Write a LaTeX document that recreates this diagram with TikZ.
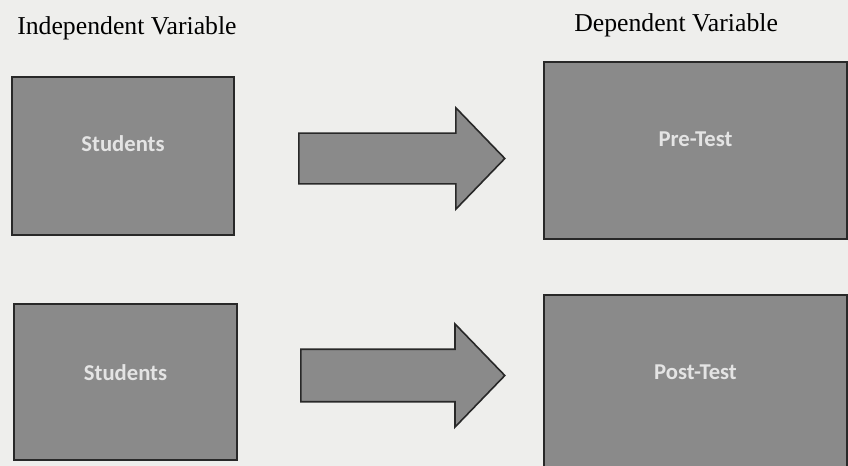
\documentclass[tikz,border=0pt]{standalone}
\usepackage{fontspec}
\setmainfont{Liberation Serif}
\newfontfamily\boxfont{Carlito}
\usetikzlibrary{shapes.arrows}
\definecolor{bgc}{RGB}{238,238,236}
\definecolor{boxc}{RGB}{138,138,138}
\definecolor{edgec}{RGB}{40,40,40}
\definecolor{labc}{RGB}{228,228,228}
\tikzset{
  x=0.75pt, y=-0.75pt,
  panel/.style={draw=edgec, fill=boxc, line width=1.2pt, rectangle, inner sep=0pt},
  boxtext/.style={text=labc, font=\boxfont\bfseries\fontsize{17}{20}\selectfont},
  title/.style={font=\fontsize{19.3}{22}\selectfont, inner sep=0pt, anchor=base west},
  blockarrow/.style={single arrow, draw=edgec, fill=boxc, line width=1.2pt,
    inner sep=0pt, text width=0pt, text height=18.4pt, text depth=18.4pt,
    single arrow head extend=19pt, single arrow tip angle=92,
    minimum height=154.5pt, anchor=tail},
}
\begin{document}
\begin{tikzpicture}
\useasboundingbox (0,0) rectangle (848,466);
\clip (0,0) rectangle (848,466);
\fill[bgc] (0,0) rectangle (848,466);

\node[title] (tiv) at (17,35) {Independent Variable};
\node[title] (tdv) at (574,32) {Dependent Variable};

\node[panel, minimum width=166.5pt, minimum height=118.5pt,
  label={[boxtext, yshift=-60.5pt]north:Students}] (s1) at (123,156) {};
\node[panel, minimum width=167.25pt, minimum height=117pt,
  label={[boxtext, yshift=-62pt]north:Students}] (s2) at (125.5,382) {};
\node[panel, minimum width=227.25pt, minimum height=132.75pt,
  label={[boxtext, yshift=-68pt]north:Pre-Test}] (pre) at (695.5,150.5) {};
\node[panel, minimum width=227.25pt, minimum height=135pt,
  label={[boxtext, yshift=-68pt]north:Post-Test}] (post) at (695.5,385) {};

\node[blockarrow] (a1) at (298,158.5) {};
\node[blockarrow, text height=19.1pt, text depth=19.1pt, minimum height=153pt] (a2) at (300,375.5) {};
\end{tikzpicture}
\end{document}
